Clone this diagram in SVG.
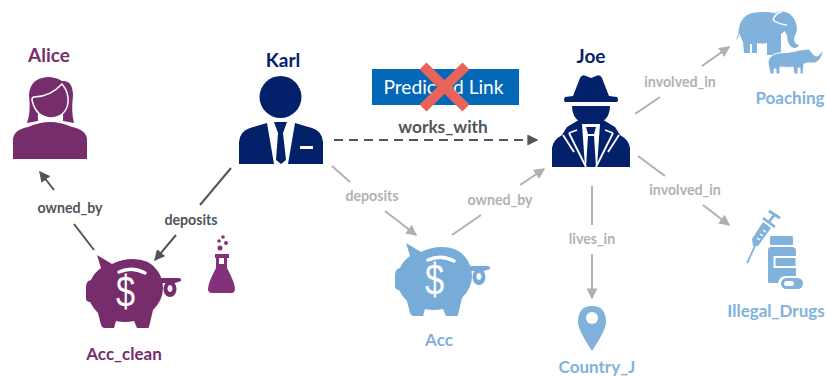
<svg xmlns="http://www.w3.org/2000/svg" width="826" height="378" viewBox="0 0 826 378">
<style>
text{font-family:Lato,"Open Sans","Liberation Sans",sans-serif;font-weight:700}
.n{font-size:17px;text-anchor:middle}
.m{font-size:19px;text-anchor:middle}
.l{font-size:14.200px;text-anchor:middle}
.d{fill:#505559}.g{fill:#b0b2b4}
.pu{fill:#772d6b}.na{fill:#03206b}.bl{fill:#80b2dc}
.dl{stroke:#505559;stroke-width:2;fill:none}
.gl{stroke:#aeb0b2;stroke-width:2;fill:none}
.dollar{font-family:"Liberation Sans",sans-serif;font-weight:400;font-size:44px;fill:#fff;text-anchor:middle}
.w{stroke:#fff;fill:none}
</style>
<defs>
<marker id="ad" markerWidth="11" markerHeight="11" refX="7" refY="4" orient="auto" markerUnits="userSpaceOnUse" viewBox="0 0 8 8"><path d="M0 0L8 4L0 8z" fill="#505559"/></marker>
<marker id="ag" markerWidth="11" markerHeight="11" refX="7" refY="4" orient="auto" markerUnits="userSpaceOnUse" viewBox="0 0 8 8"><path d="M0 0L8 4L0 8z" fill="#aeb0b2"/></marker>
<g id="pig">
<path d="M10 0L25 9Q35 4 46 4Q62 4 70 15Q76 23 76 33Q76 45 66 55L62 72Q62 73 60 73H50L47 66Q38 68 29 66L27 73H17Q15 73 14 70L11 58Q6 53 3 47Q-1 47 -1 43V32Q-1 26 4 25Q7 18 14 13Z"/>
<path d="M73 23H91Q95 23 94 26L88 28H73Z"/>
<path fill-rule="evenodd" d="M83 26a6.500 8 0 1 0 .01 0ZM83 30a2.500 3.500 0 1 1 -.01 0Z"/>
<path class="w" d="M32 17Q45 11 58 18" stroke-width="3.500" stroke-linecap="round"/>
</g>
</defs>

<g id="connectors">
<path class="dl" d="M94 250L74 224"/>
<path class="dl" d="M54 190L40 172" marker-end="url(#ad)"/>
<path class="dl" d="M231 168L200 205"/>
<path class="dl" d="M176 235L155 260" marker-end="url(#ad)"/>
<path class="dl" d="M334 140H537" stroke-width="2.300" stroke-dasharray="9 6" marker-end="url(#ad)"/>
<path class="gl" d="M332 166L350 182"/>
<path class="gl" d="M385 211L416 235" marker-end="url(#ag)"/>
<path class="gl" d="M452 235L481 215"/>
<path class="gl" d="M520 185L544 169" marker-end="url(#ag)"/>
<path class="gl" d="M592 186V225"/>
<path class="gl" d="M592 254V298" marker-end="url(#ag)"/>
<path class="gl" d="M635 114L660 97"/>
<path class="gl" d="M702 66L729 47" marker-end="url(#ag)"/>
<path class="gl" d="M638 156L665 176"/>
<path class="gl" d="M703 205L729 225" marker-end="url(#ag)"/>
</g>

<g id="edge-labels">
<text class="l d" x="70" y="213">owned_by</text>
<text class="l d" x="191" y="225">deposits</text>
<text class="l g" x="372" y="201">deposits</text>
<text class="l g" x="500" y="205">owned_by</text>
<text class="l g" x="592" y="244">lives_in</text>
<text class="l g" x="680" y="87">involved_in</text>
<text class="l g" x="685" y="195">involved_in</text>
<text class="d" x="443" y="133" font-size="17.300" text-anchor="middle">works_with</text>
</g>

<g id="alice">
<text class="m pu" x="49" y="62">Alice</text>
<path class="pu" d="M27 123Q31 112 29 95Q30 77 50 77Q58 78 62 81Q73 80 73 96Q71 112 74 123L63 121V113L38 113V121Z"/>
<path d="M32 100Q32 97 34 97Q50 97 62 84Q69 92 68 103Q66 116 52 118Q36 118 32 100Z" fill="#772d6b" stroke="#fff" stroke-width="1.500"/>
<path class="w" d="M38 116Q44 122 50 123Q56 122 63 116" stroke-width="1.500"/>
<path class="pu" d="M13 159V140Q13 130 28 127Q40 122 50 122Q60 122 72 127Q87 130 87 140V159Z"/>
</g>

<g id="karl">
<text class="m na" x="283" y="67">Karl</text>
<circle class="na" cx="280.500" cy="97" r="21"/>
<path class="na" d="M239 164V142Q240 131 250 128L267 123L274 164Z"/>
<path class="na" d="M323 164V142Q322 131 312 128L295 123L288 164Z"/>
<path class="na" d="M274 122H287L283 133L286 160L281 164L276 160L278 133Z"/>
<rect x="300" y="146" width="13" height="3" fill="#fff"/>
</g>

<g id="acc_clean">
<use href="#pig" x="87" y="255" fill="#772d6b"/>
<text class="dollar" transform="translate(125.500 307) scale(.78 1)">$</text>
<text class="n pu" x="124" y="360">Acc_clean</text>
</g>

<g id="flask">
<path d="M215 254H229V258H227V268Q235 283 235 289Q235 293 231 293H212Q208 293 208 289Q208 283 216 268V258H215Z" fill="#84317c"/>
<rect x="219" y="258" width="5" height="6" fill="#fff"/>
<circle cx="220" cy="248" r="2.500" fill="#84317c"/><circle cx="219" cy="241" r="1.800" fill="#84317c"/><circle cx="226" cy="243" r="2" fill="#84317c"/><circle cx="223" cy="237" r="1.800" fill="#84317c"/>
</g>

<g id="predicted-link">
<rect x="372" y="69" width="147" height="36" fill="#0468b8"/>
<text x="443.500" y="94" font-size="19.200" fill="#fff" text-anchor="middle" style="font-weight:400">Predicted Link</text>
<path d="M423 66L466 108M466 66L423 108" stroke="#e8635a" stroke-width="10" fill="none"/>
</g>

<g id="joe">
<text class="m na" x="591" y="63">Joe</text>
<path class="na" d="M573 96L580 78Q582 74 586 76L591 78L596 76Q600 74 602 78L609 96L617 97Q619 100 617 102H565Q563 100 565 97Z"/>
<path class="na" d="M572 106H610Q610 117 602 122Q591 128 580 122Q572 117 572 106Z"/>
<path class="na" d="M552 167V148Q553 140 562 135L567 127L582 118H600L615 127L620 135Q629 140 630 148V167Z"/>
<path d="M582 124H600L597 167H585Z" fill="#fff"/>
<path class="na" d="M586 127H596L594 134H588ZM588 136H594L596 167H586Z"/>
<path class="w" d="M569 133L586 167M613 133L596 167M569 133L577 130M613 133L605 130M563 135L574 152M619 135L608 152" stroke-width="1.800"/>
</g>

<g id="acc">
<use href="#pig" x="396" y="243" fill="#77acd9"/>
<text class="dollar" transform="translate(434.500 295) scale(.78 1)">$</text>
<text class="n" x="439" y="346" style="fill:#7fb1dc">Acc</text>
</g>

<g id="poaching">
<path class="bl" d="M736 40Q739 34 739 28Q741 16 752 13Q765 11 775 13Q782 9 790 14Q797 20 797 30L794 38Q794 44 799 45Q798 48 794 48Q788 47 787 36L785 31L781 34V55H767V43Q762 44 757 43V53H752V44H750V53H744L743 42L739 33Q739 38 736 40Z"/>
<path class="w" d="M773 20Q776 12 782 12M773 20Q778 24 787 25" stroke-width="1.500"/>
<path class="bl" d="M768 62Q769 55 778 53Q790 53 800 50L809 49L814 55Q818 58 821 52L823 51Q822 60 815 63L807 63L804 64L803 74H800V68H798V74H794L793 67Q788 68 780 67L780 74H776V69H774V74H770Z" stroke="#fff" stroke-width="1"/>
<text class="n bl" x="790" y="104">Poaching</text>
</g>

<g id="illegal_drugs">
<path d="M747 263L755 246" stroke="#80b2dc" stroke-width="1.800" fill="none"/>
<path class="bl" d="M752 239L763 222L771 228L758 246L753 246Z"/>
<path d="M757 238l3 2M760 234l3 2M763 230l3 2" stroke="#fff" stroke-width="1.500" fill="none"/>
<path d="M768 223L775 214M763 218L775 227M769 211L780 218" stroke="#80b2dc" stroke-width="2.800" fill="none"/>
<path class="bl" d="M771 236H792Q793 236 793 238V244Q793 245 792 245H771Q770 245 770 244V238Q770 236 771 236Z"/>
<path class="bl" d="M770 247H793Q796 248 796 251V276H785Q779 277 778 283H769Q768 283 768 281V250Q768 248 770 247Z"/>
<path d="M773.500 256H796V268H773.500Z" fill="#fff"/>
<rect x="775.500" y="258" width="20" height="8" fill="#80b2dc"/>
<rect x="781" y="278" width="22" height="11" rx="5.500" fill="#80b2dc"/>
<rect x="784" y="281" width="10" height="5" rx="2.500" fill="#fff"/>
<text class="n bl" x="776" y="317">Illegal_Drugs</text>
</g>

<g id="country_j">
<path class="bl" d="M592 306Q606 306 606 322Q606 330 592 351Q578 330 578 322Q578 306 592 306Z"/>
<circle cx="592" cy="318" r="6" fill="#fff"/>
<text class="n bl" x="597" y="373">Country_J</text>
</g>
</svg>
